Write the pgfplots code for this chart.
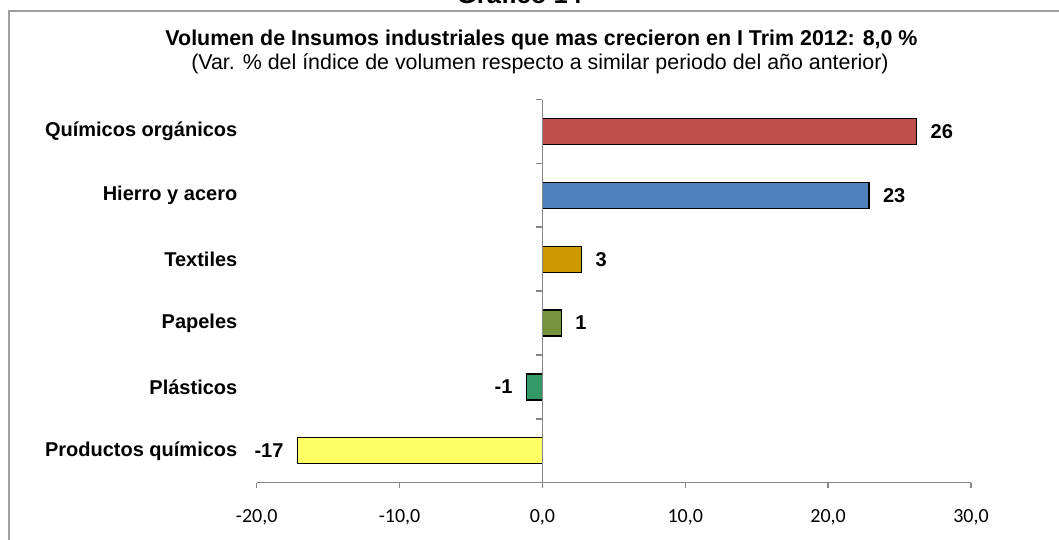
\documentclass[border=0pt]{standalone}
\usepackage{pgfplots}
\pgfplotsset{compat=1.18}
\usepackage{fontspec}
\setmainfont{Liberation Sans}
\newfontfamily\calibri{Carlito}
\definecolor{axgray}{HTML}{868686}
\definecolor{framegray}{HTML}{A0A0A0}
\definecolor{cred}{HTML}{C0504D}
\definecolor{cblue}{HTML}{4F81BD}
\definecolor{cgold}{HTML}{CC9900}
\definecolor{cgreen}{HTML}{77933C}
\definecolor{cteal}{HTML}{339966}
\definecolor{cyellow}{HTML}{FFFF66}
\begin{document}
\begin{tikzpicture}
\useasboundingbox (0,0) rectangle (529.5pt,-270pt);
\draw[framegray, line width=1pt] (4.65pt,-300pt) -- (4.65pt,-5.5pt) -- (560pt,-5.5pt);
\node[anchor=base, font=\bfseries\fontsize{12.8}{14}\selectfont, inner sep=0pt] at (259.75pt,-2pt) {Gráfico 14};
\node[anchor=base, font=\bfseries\fontsize{10.7}{12}\selectfont, inner sep=0pt] at (270.75pt,-23pt) {Volumen de Insumos industriales que mas crecieron en I Trim 2012: 8,0 \%};
\node[anchor=base, font=\fontsize{10.7}{12}\selectfont, inner sep=0pt] at (270pt,-35pt) {(Var. \% del índice de volumen respecto a similar periodo del año anterior)};
\begin{axis}[
  at={(128.35pt,-241.35pt)}, anchor=south west,
  width=357.15pt, height=191.6pt, scale only axis,
  xmin=-20, xmax=30, ymin=-0.5, ymax=5.5,
  xbar, bar width=13pt, bar shift=0pt,
  axis x line*=bottom, axis y line*=left,
  y axis line style={draw=none},
  x axis line style={axgray, line width=0.75pt},
  xtick={-20,-10,0,10,20,30},
  xticklabels={{-20,0},{-10,0},{0,0},{10,0},{20,0},{30,0}},
  xtick style={axgray, line width=0.75pt},
  xtick align=outside, major tick length=2.5pt,
  ytick={0,1,2,3,4,5},
  yticklabels={Productos químicos, Plásticos, Papeles, Textiles, Hierro y acero, Químicos orgánicos},
  ytick style={draw=none},
  xticklabel style={font=\calibri\fontsize{10}{12}\selectfont, anchor=base, inner sep=0pt, yshift=-17.5pt},
  yticklabel style={font=\bfseries\fontsize{10}{12}\selectfont, anchor=east, inner sep=0pt, xshift=-7pt},
  point meta=explicit symbolic,
  nodes near coords,
  nodes near coords style={font=\bfseries\fontsize{10}{12}\selectfont, inner xsep=6.7pt, inner ysep=0pt, text=black},
  clip=false,
  every axis plot/.append style={draw=black, line width=0.6pt, bar shift=0pt},
]
\addplot[fill=cred, draw=black, nodes near coords style={anchor=west}] coordinates {(26.2,5) [26]};
\addplot[fill=cblue, draw=black, nodes near coords style={anchor=west}] coordinates {(22.86,4) [23]};
\addplot[fill=cgold, draw=black, nodes near coords style={anchor=west}] coordinates {(2.75,3) [3]};
\addplot[fill=cgreen, draw=black, nodes near coords style={anchor=west}] coordinates {(1.33,2) [1]};
\addplot[fill=cteal, draw=black, nodes near coords style={anchor=east}] coordinates {(-1.12,1) [-1]};
\addplot[fill=cyellow, draw=black, nodes near coords style={anchor=east}] coordinates {(-17.15,0) [-17]};
\draw[axgray, line width=0.75pt] (axis cs:0,-0.5) -- (axis cs:0,5.5);
\draw[axgray, line width=0.75pt] ([xshift=-3pt]axis cs:0,5.5) -- (axis cs:0,5.5);
\draw[axgray, line width=0.75pt] ([xshift=-3pt]axis cs:0,4.5) -- (axis cs:0,4.5);
\draw[axgray, line width=0.75pt] ([xshift=-3pt]axis cs:0,3.5) -- (axis cs:0,3.5);
\draw[axgray, line width=0.75pt] ([xshift=-3pt]axis cs:0,2.5) -- (axis cs:0,2.5);
\draw[axgray, line width=0.75pt] ([xshift=-3pt]axis cs:0,1.5) -- (axis cs:0,1.5);
\draw[axgray, line width=0.75pt] ([xshift=-3pt]axis cs:0,0.5) -- (axis cs:0,0.5);
\end{axis}
\end{tikzpicture}
\end{document}
